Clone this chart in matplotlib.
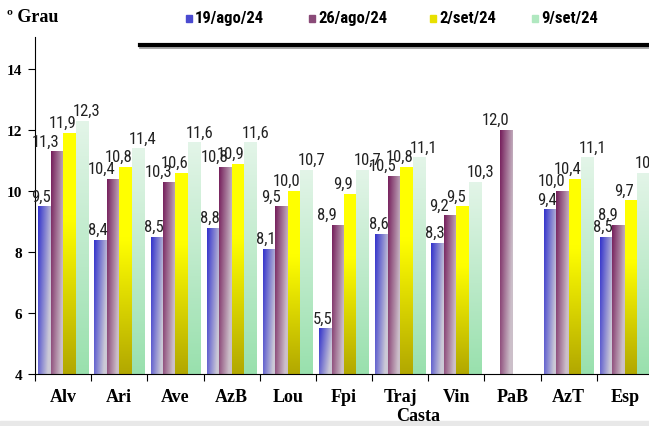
import numpy as np
import matplotlib
matplotlib.use("Agg")
import matplotlib.pyplot as plt
from matplotlib import font_manager
from matplotlib.patches import Rectangle
from matplotlib.lines import Line2D

castas = ["Alv", "Ari", "Ave", "AzB", "Lou", "Fpi", "Traj", "Vin", "PaB", "AzT", "Esp"]
datas = ["19/ago/24", "26/ago/24", "2/set/24", "9/set/24"]
ago19 = [9.5, 8.4, 8.5, 8.8, 8.1, 5.5, 8.6, 8.3, np.nan, 9.4, 8.5]
ago26 = [11.3, 10.4, 10.3, 10.8, 9.5, 8.9, 10.5, 9.2, 12.0, 10.0, 8.9]
set2 = [11.9, 10.8, 10.6, 10.9, 10.0, 9.9, 10.8, 9.5, np.nan, 10.4, 9.7]
set9 = [12.3, 11.4, 11.6, 11.6, 10.7, 10.7, 11.1, 10.3, np.nan, 11.1, 10.6]
series = [ago19, ago26, set2, set9]

# pick a narrow sans if one is installed
fonts = font_manager.fontManager.ttflist
names = {f.name for f in fonts}
cond = {f.name for f in fonts if f.stretch in ("condensed", "semi-condensed", "extra-condensed")}
narrow, stretch, small = "Liberation Sans", "normal", 0.88
for cand in ["Liberation Sans Narrow", "Arial Narrow", "Roboto Condensed", "Open Sans Condensed"]:
    if cand in names:
        narrow, stretch, small = cand, "normal", 1.0
        break
else:
    for cand in ["Roboto", "Open Sans", "DejaVu Sans", "Noto Sans"]:
        if cand in cond:
            narrow, stretch, small = cand, "condensed", 1.0
            break
serif = "Liberation Serif"

W, H = 649, 427
fig = plt.figure(figsize=(W / 100, H / 100), dpi=100)
ax = fig.add_axes([35 / W, 52 / H, 618 / W, 337 / H])

def lerp(a, b, t):
    a = np.array(a)
    b = np.array(b)
    return a + (b - a) * t[..., None]

def gradient(i, ny=60, nx=24):
    u, v = np.meshgrid(np.linspace(0, 1, nx), np.linspace(0, 1, ny))
    if i == 0:
        t = np.clip(0.85 * u + 0.35 * (1 - v), 0, 1)
        return lerp((0.2, 0.2, 0.8), (0.8, 0.79, 0.84), t)
    if i == 1:
        t = np.clip(0.85 * u + 0.35 * (1 - v), 0, 1)
        return lerp((0.46, 0.12, 0.36), (0.8, 0.75, 0.79), t)
    if i == 2:
        t = np.clip(v / 0.65, 0, 1)
        return lerp((0.7, 0.66, 0.0), (1.0, 1.0, 0.0), t)
    t = v
    return lerp((0.6, 0.88, 0.68), (0.89, 0.96, 0.91), t)

x = np.arange(len(castas))
w = 0.222
dx_px = [-3, -11, -7, 5]
for i, vals in enumerate(series):
    bars = ax.bar(x + (i - 1.5) * w, vals, w, color="none", edgecolor="none", zorder=2)
    for b, v in zip(bars, vals):
        if np.isnan(v):
            continue
        im = ax.imshow(gradient(i), extent=[b.get_x(), b.get_x() + w, 4, v],
                       origin="lower", aspect="auto", interpolation="bilinear", zorder=2)
        im.set_clip_path(b)
        ax.annotate(f"{v:.1f}".replace(".", ","), (b.get_x() + w / 2, v),
                    xytext=(dx_px[i] * 0.72, 2), textcoords="offset points",
                    ha="center", va="bottom", fontsize=12 * small,
                    family=narrow, fontstretch=stretch, color="#222222", zorder=4)

ax.set_xlim(-0.5, len(castas) - 0.5)
ax.set_ylim(4, 15.05)
ax.set_yticks([4, 6, 8, 10, 12, 14])
ax.set_xticks(x)
ax.set_xticklabels(castas)
ax.set_xticks(np.arange(len(castas) + 1) - 0.5, minor=True)
ax.tick_params(axis="x", which="major", length=0, pad=10)
ax.tick_params(axis="x", which="minor", length=5, width=0.8, direction="out")
ax.tick_params(axis="y", length=5, width=0.8, direction="out", pad=4)
for lab in ax.get_xticklabels():
    lab.set_fontfamily(serif)
    lab.set_fontweight("bold")
    lab.set_fontsize(13)
for lab in ax.get_yticklabels():
    lab.set_fontfamily(serif)
    lab.set_fontweight("bold")
    lab.set_fontsize(11)
for s in ["top", "right"]:
    ax.spines[s].set_visible(False)
for s in ["left", "bottom"]:
    ax.spines[s].set_linewidth(0.8)

fig.text(7 / W, 1 - 18 / H, "º Grau", family=serif, fontweight="bold", fontsize=13,
         va="center", ha="left")
fig.text(418 / W, 1 - 417 / H, "Casta", family=serif, fontweight="bold", fontsize=13,
         va="center", ha="center")

# legend
leg_cols = ["#4a4ad0", "#8a4a78", "#e8e000", "#b0e8c0"]
leg_x = [186, 309, 430, 532]
for c, lx, lab in zip(leg_cols, leg_x, datas):
    fig.patches.append(Rectangle((lx / W, 1 - 23 / H), 6 / W, 7 / H,
                                 transform=fig.transFigure, color=c))
    fig.text((lx + 9) / W, 1 - 19 / H, lab, family=narrow, fontstretch=stretch,
             fontweight="bold", fontsize=12 * small, va="center", ha="left")

fig.lines.append(Line2D([140 / W, 1], [1 - 48.5 / H] * 2, transform=fig.transFigure,
                        color="#999999", linewidth=1.2))
fig.lines.append(Line2D([140 / W, 1], [1 - 46 / H] * 2, transform=fig.transFigure,
                        color="black", linewidth=3))
fig.patches.append(Rectangle((0, 0), 1, 5 / H, transform=fig.transFigure,
                             color="#e8e8e8"))

fig.savefig("out.png", dpi=100)
